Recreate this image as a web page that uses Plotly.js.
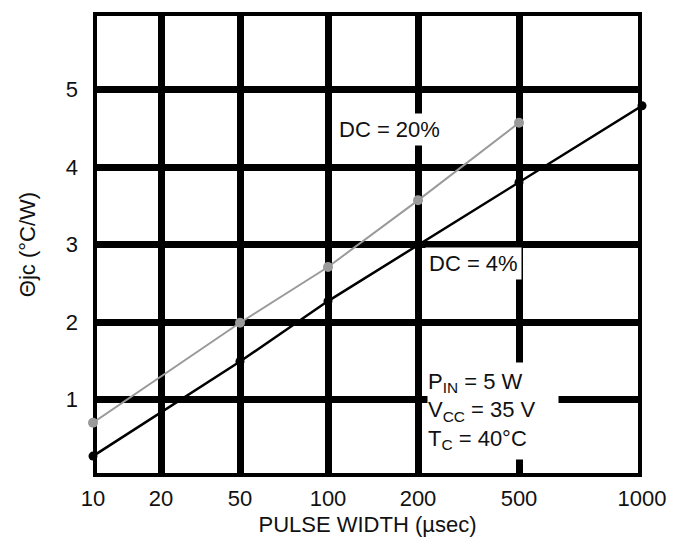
<!DOCTYPE html>
<html>
<head>
<meta charset="utf-8">
<script src="https://cdn.plot.ly/plotly-3.0.1.min.js"></script>
<style>html,body{margin:0;padding:0;background:#fff;}#chart{width:673px;height:548px;}</style>
</head>
<body>
<div id="chart"></div>
<script>
// ---- data ----
var xTickValues = [10, 20, 50, 100, 200, 500, 1000];
var xTickLabels = ['10', '20', '50', '100', '200', '500', '1000'];
var yTickValues = [1, 2, 3, 4, 5];
var yTickLabels = ['1', '2', '3', '4', '5'];

var pulseWidthDC4 = [10, 50, 100, 500, 1000];
var thetaDC4 = [0.27, 1.49, 2.27, 3.80, 4.79];

var pulseWidthDC20 = [10, 50, 100, 200, 500];
var thetaDC20 = [0.70, 1.99, 2.71, 3.57, 4.57];

// ---- the printed chart's own (non-uniform) horizontal scale ----
var xScaleStops = [0, 68, 147, 235, 325, 426, 549];
function xScale(v) {
  for (var i = 0; i < xTickValues.length - 1; i++) {
    var a = xTickValues[i], b = xTickValues[i + 1];
    if (v <= b || i === xTickValues.length - 2) {
      var t = (Math.log(v) - Math.log(a)) / (Math.log(b) - Math.log(a));
      return xScaleStops[i] + t * (xScaleStops[i + 1] - xScaleStops[i]);
    }
  }
}

var FONT = 'Liberation Sans, Arial, Helvetica, sans-serif';

var traces = [
  {
    x: pulseWidthDC20.map(xScale), y: thetaDC20,
    mode: 'lines+markers', type: 'scatter', cliponaxis: false,
    line: {color: '#9a9a9a', width: 2},
    marker: {color: '#9a9a9a', size: 10},
    hoverinfo: 'skip'
  },
  {
    x: pulseWidthDC4.map(xScale), y: thetaDC4,
    mode: 'lines+markers', type: 'scatter', cliponaxis: false,
    line: {color: '#000', width: 2.5},
    marker: {color: '#000', size: 9},
    hoverinfo: 'skip'
  }
];

var layout = {
  width: 673, height: 548,
  margin: {l: 93, r: 31, t: 12, b: 71},
  paper_bgcolor: '#fff', plot_bgcolor: '#fff',
  showlegend: false,
  font: {family: FONT, size: 22, color: '#000'},
  xaxis: {
    range: [xScaleStops[0], xScaleStops[xScaleStops.length - 1]],
    tickmode: 'array', tickvals: xScaleStops, ticktext: xTickLabels,
    showgrid: true, gridcolor: '#000', gridwidth: 7,
    zeroline: false, showline: false, ticks: '',
    tickfont: {family: FONT, size: 22, color: '#111'},
    ticklabelstandoff: 6,
    title: {text: 'PULSE WIDTH (µsec)', font: {family: FONT, size: 22, color: '#111'}, standoff: 6},
    fixedrange: true
  },
  yaxis: {
    range: [0, 6],
    tickmode: 'array', tickvals: yTickValues, ticktext: yTickLabels,
    showgrid: true, gridcolor: '#000', gridwidth: 7,
    zeroline: false, showline: false, ticks: '',
    tickfont: {family: FONT, size: 22, color: '#111'},
    ticklabelstandoff: 14,
    title: {text: 'Θjc (°C/W)', font: {family: FONT, size: 22, color: '#111'}, standoff: 24},
    fixedrange: true
  },
  shapes: [{
    type: 'rect', xref: 'x', yref: 'y', layer: 'below',
    x0: xScaleStops[0], x1: xScaleStops[xScaleStops.length - 1], y0: 0, y1: 6,
    line: {color: '#000', width: 8}, fillcolor: 'rgba(0,0,0,0)'
  }],
  annotations: [
    {
      x: 242, y: 4.48, xref: 'x', yref: 'y', xanchor: 'left', yanchor: 'middle',
      text: 'DC = 20%', showarrow: false, bgcolor: '#fff', borderpad: 3,
      font: {family: FONT, size: 22, color: '#111'}
    },
    {
      x: 332, y: 2.76, xref: 'x', yref: 'y', xanchor: 'left', yanchor: 'middle',
      text: 'DC = 4%', showarrow: false, bgcolor: '#fff', borderpad: 3,
      font: {family: FONT, size: 22, color: '#111'}
    },
    {
      x: 334, y: 0.846, xref: 'x', yref: 'y', xanchor: 'left', yanchor: 'middle',
      width: 130, height: 96, align: 'left', valign: 'middle',
      text: 'P<sub>IN</sub> = 5 W<br>V<sub>CC</sub> = 35 V<br>T<sub>C</sub> = 40°C',
      showarrow: false, bgcolor: '#fff', borderpad: 0,
      font: {family: FONT, size: 22, color: '#111'}
    }
  ]
};

Plotly.newPlot('chart', traces, layout, {displayModeBar: false, staticPlot: true});
</script>
</body>
</html>
